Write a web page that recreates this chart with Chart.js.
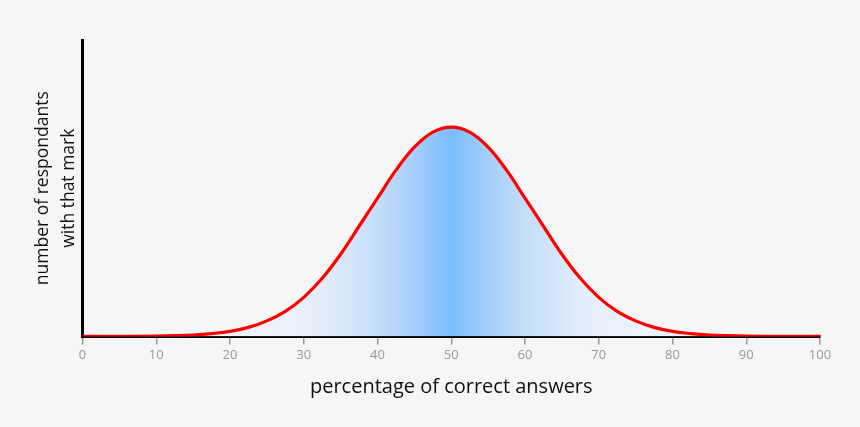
<!DOCTYPE html>
<html>
<head>
<meta charset="utf-8">
<title>Distribution of marks</title>
<script src="https://cdn.jsdelivr.net/npm/chart.js@4/dist/chart.umd.min.js"></script>
<style>
  html, body { margin: 0; padding: 0; background: #f6f6f6; }
  #wrap { width: 860px; height: 427px; position: relative; }
</style>
</head>
<body>
<div id="wrap"><canvas id="chart"></canvas></div>
<script>
// ---------------- data ----------------
const percentCorrect = [0, 5, 10, 12.5, 15, 17.5, 20, 22.5, 25, 27.5, 30, 32.5, 35, 37.5, 40, 42.5, 45, 47.5, 50,
  52.5, 55, 57.5, 60, 62.5, 65, 67.5, 70, 72.5, 75, 77.5, 80, 82.5, 85, 87.5, 90, 95, 100];
const respondants = [0, 0.05, 0.3, 0.7, 1.4, 2.8, 5, 9, 15.5, 25, 39, 58, 82, 110, 138, 166, 189, 204, 209,
  204, 189, 166, 138, 110, 82, 58, 39, 25, 15.5, 9, 5, 2.8, 1.4, 0.7, 0.3, 0.05, 0];

const xTitle = 'percentage of correct answers';
const yTitle = ['number of respondants', 'with that mark'];

// ---------------- chart ----------------
function blueFill(context) {
  const area = context.chart.chartArea;
  if (!area) return 'rgba(125,190,252,0.5)';
  const g = context.chart.ctx.createLinearGradient(area.left, 0, area.right, 0);
  g.addColorStop(0.0, '#f1f4f8');
  g.addColorStop(0.25, '#eef3fa');
  g.addColorStop(0.32, '#e4eefa');
  g.addColorStop(0.40, '#c4def8');
  g.addColorStop(0.45, '#a4cefa');
  g.addColorStop(0.50, '#7bbdfd');
  g.addColorStop(0.55, '#a4cefa');
  g.addColorStop(0.60, '#c4def8');
  g.addColorStop(0.68, '#e4eefa');
  g.addColorStop(0.75, '#eef3fa');
  g.addColorStop(1.0, '#f1f4f8');
  return g;
}

const ctx = document.getElementById('chart').getContext('2d');
new Chart(ctx, {
  type: 'line',
  data: {
    datasets: [{
      data: percentCorrect.map((p, i) => ({ x: p, y: respondants[i] })),
      borderColor: '#ff0000',
      borderWidth: 3.2,
      backgroundColor: blueFill,
      fill: 'origin',
      pointRadius: 0,
      tension: 0.4
    }]
  },
  options: {
    responsive: true,
    maintainAspectRatio: false,
    animation: false,
    layout: { padding: { left: 26, right: 40, top: 40, bottom: 24 } },
    plugins: { legend: { display: false }, tooltip: { enabled: false } },
    scales: {
      x: {
        type: 'linear',
        min: 0,
        max: 100,
        ticks: {
          stepSize: 10,
          color: '#999999',
          padding: 3,
          font: { family: 'Open Sans', size: 13 }
        },
        grid: { drawOnChartArea: false, color: '#999999', tickLength: 8, lineWidth: 1.5 },
        border: { color: '#000000', width: 3 },
        title: {
          display: true,
          text: xTitle,
          color: '#111111',
          padding: { top: 9 },
          font: { family: 'Open Sans', size: 20 }
        }
      },
      y: {
        min: 0,
        max: 296,
        ticks: { display: false },
        grid: { display: false },
        border: { color: '#000000', width: 3 },
        title: {
          display: true,
          text: yTitle,
          color: '#111111',
          padding: { top: 4, bottom: -8 },
          font: { family: 'Open Sans', size: 17.5, lineHeight: 1.5 }
        }
      }
    }
  }
});
</script>
</body>
</html>
